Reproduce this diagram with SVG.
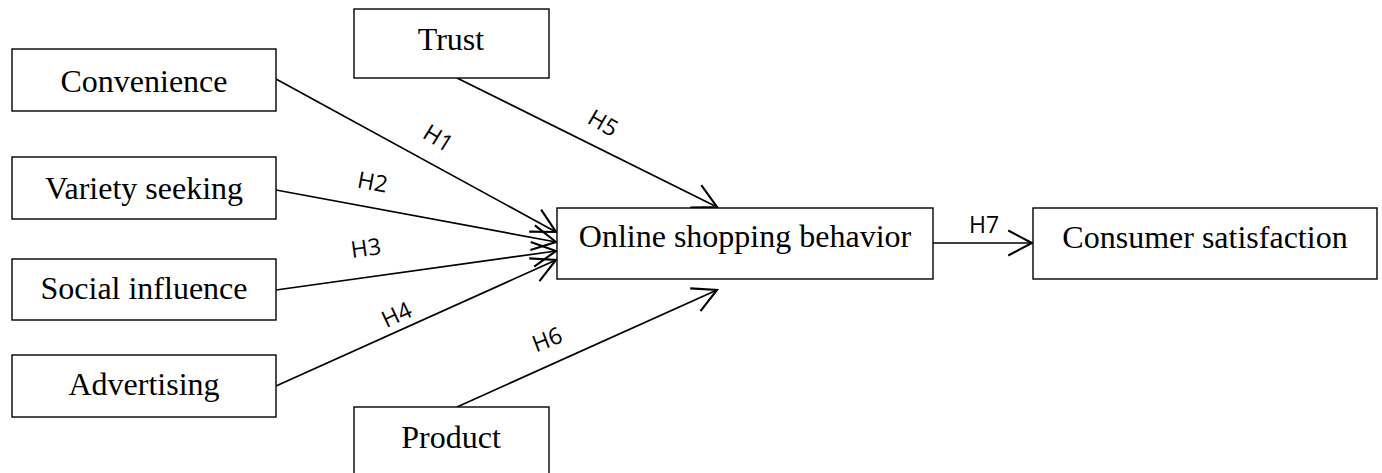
<svg xmlns="http://www.w3.org/2000/svg" width="1382" height="473" viewBox="0 0 1382 473">
<style>
.box{fill:#fff;stroke:#000;stroke-width:1.4}
.t{font-family:"Liberation Serif","Times New Roman",serif;font-size:32px;text-anchor:middle;fill:#000}
.lbl{font-family:"Open Sans","Liberation Sans",sans-serif;font-size:23px;text-anchor:middle;fill:#000}
.c{stroke:#000;stroke-width:1.7;fill:none}
</style>
<defs>
<marker id="arr" markerUnits="userSpaceOnUse" markerWidth="30" markerHeight="30" viewBox="-22 -12 24 24" refX="0" refY="0" orient="auto">
<path d="M-19,-10 L0,0 L-19,10" fill="none" stroke="#000" stroke-width="1.7"/>
</marker>
</defs>
<rect width="1382" height="473" fill="#fff"/>
<g id="connectors">
<line class="c" x1="276" y1="79" x2="556" y2="232" marker-end="url(#arr)"/>
<line class="c" x1="276" y1="190" x2="556" y2="242" marker-end="url(#arr)"/>
<line class="c" x1="276" y1="290" x2="556" y2="251" marker-end="url(#arr)"/>
<line class="c" x1="276" y1="386" x2="556" y2="260" marker-end="url(#arr)"/>
<line class="c" x1="457" y1="78" x2="717" y2="207" marker-end="url(#arr)"/>
<line class="c" x1="457" y1="407" x2="717" y2="290" marker-end="url(#arr)"/>
<line class="c" x1="933" y1="243" x2="1032" y2="243" marker-end="url(#arr)"/>
<text class="lbl" transform="translate(434,145) rotate(32)">H1</text>
<text class="lbl" transform="translate(371,190) rotate(11)">H2</text>
<text class="lbl" transform="translate(367,256) rotate(-8)">H3</text>
<text class="lbl" transform="translate(400,322) rotate(-25)">H4</text>
<text class="lbl" transform="translate(599,130) rotate(30)">H5</text>
<text class="lbl" transform="translate(550,347) rotate(-21)">H6</text>
<text class="lbl" x="984" y="233">H7</text>
</g>
<g id="convenience"><rect class="box" x="12" y="49" width="264" height="62"/><text class="t" x="144" y="92">Convenience</text></g>
<g id="variety"><rect class="box" x="12" y="157" width="264" height="62"/><text class="t" x="144" y="199">Variety seeking</text></g>
<g id="social"><rect class="box" x="12" y="259" width="264" height="61"/><text class="t" x="144" y="299">Social influence</text></g>
<g id="advertising"><rect class="box" x="12" y="355" width="264" height="62"/><text class="t" x="144" y="395">Advertising</text></g>
<g id="trust"><rect class="box" x="354" y="9" width="195" height="69"/><text class="t" x="451" y="50">Trust</text></g>
<g id="product"><rect class="box" x="354" y="407" width="195" height="70"/><text class="t" x="451" y="448">Product</text></g>
<g id="online"><rect class="box" x="557" y="208" width="376" height="71"/><text class="t" x="745" y="247">Online shopping behavior</text></g>
<g id="satisfaction"><rect class="box" x="1033" y="208" width="344" height="71"/><text class="t" x="1205" y="248">Consumer satisfaction</text></g>
</svg>
